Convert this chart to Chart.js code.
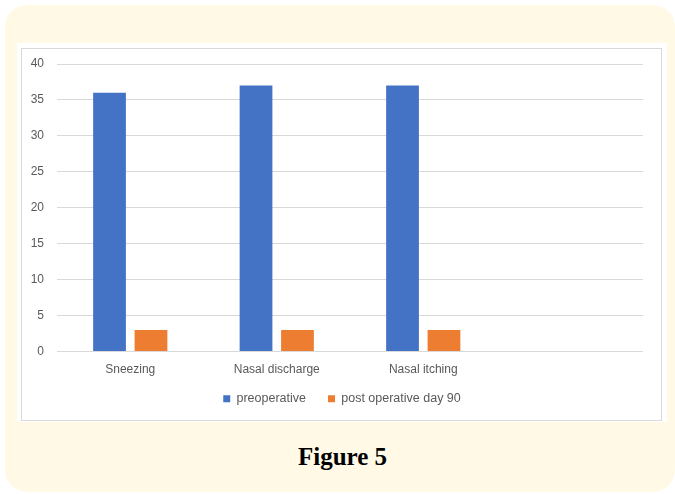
<!DOCTYPE html>
<html>
<head>
<meta charset="utf-8">
<script src="https://cdn.jsdelivr.net/npm/chart.js@4.4.1/dist/chart.umd.min.js"></script>
<style>
  html, body { margin:0; padding:0; background:#ffffff; }
  body { width:675px; height:494px; position:relative; overflow:hidden; }
  #panel { position:absolute; left:5px; top:5px; width:670px; height:487px; background:#FFF9E6; border-radius:22px; }
  #white { position:absolute; left:17px; top:43px; width:650px; height:379px; background:#ffffff; }
  #box { position:absolute; left:21px; top:48px; width:639px; height:371px; border:1px solid #d9d9d9; box-sizing:content-box; }
  #wrap { position:absolute; left:21px; top:48px; width:640px; height:373px; }
  #caption { position:absolute; left:5px; width:675px; top:443px; text-align:center;
    font-family:"Liberation Serif", serif; font-weight:bold; font-size:25px; color:#000; }
</style>
</head>
<body>
<div id="panel"></div>
<div id="white"></div>
<div id="box"></div>
<div id="wrap"><canvas id="c" width="640" height="373"></canvas></div>
<div id="caption">Figure 5</div>
<script>
const categories = ['Sneezing', 'Nasal discharge', 'Nasal itching', ''];
const preoperative = [36, 37, 37, null];
const postOperativeDay90 = [3, 3, 3, null];
const seriesNames = ['preoperative', 'post operative day 90'];
const yTicks = [0, 5, 10, 15, 20, 25, 30, 35, 40];

const tickFont = { family: '"Liberation Sans", Arial, sans-serif', size: 12 };

const legendShift = {
  id: 'legendShift',
  afterLayout(chart) {
    const lg = chart.legend;
    if (!lg) return;
    const dx = 10, dy = -6;
    lg.left += dx; lg.right += dx;
    lg.top += dy; lg.bottom += dy;
  }
};

new Chart(document.getElementById('c'), {
  type: 'bar',
  data: {
    labels: categories,
    datasets: [
      { label: seriesNames[0], data: preoperative, backgroundColor: '#4472C4',
        categoryPercentage: 0.566, barPercentage: 0.79 },
      { label: seriesNames[1], data: postOperativeDay90, backgroundColor: '#ED7D31',
        categoryPercentage: 0.566, barPercentage: 0.79 }
    ]
  },
  plugins: [legendShift],
  options: {
    responsive: false,
    animation: false,
    layout: { padding: { left: 0, right: 18, top: 16, bottom: 0 } },
    plugins: {
      tooltip: { enabled: false },
      legend: {
        position: 'bottom',
        labels: {
          boxWidth: 7, boxHeight: 7, padding: 22,
          color: '#595959',
          font: { family: '"Liberation Sans", Arial, sans-serif', size: 12.5 }
        }
      }
    },
    scales: {
      x: {
        grid: { display: false, drawTicks: false },
        border: { display: false },
        ticks: { color: '#595959', font: tickFont, padding: 11, maxRotation: 0 },
        afterFit: (s) => { s.height = 25; s.paddingLeft = 0; s.paddingRight = 0; }
      },
      y: {
        min: 0, max: 40,
        afterBuildTicks: (s) => { s.ticks = yTicks.map(v => ({ value: v })); },
        grid: { color: '#d9d9d9', drawTicks: false, lineWidth: 1 },
        border: { display: false },
        ticks: { color: '#595959', font: tickFont, padding: 13 },
        afterFit: (s) => { s.width = 36; s.paddingTop = 0; s.paddingBottom = 0; }
      }
    }
  }
});
</script>
</body>
</html>
